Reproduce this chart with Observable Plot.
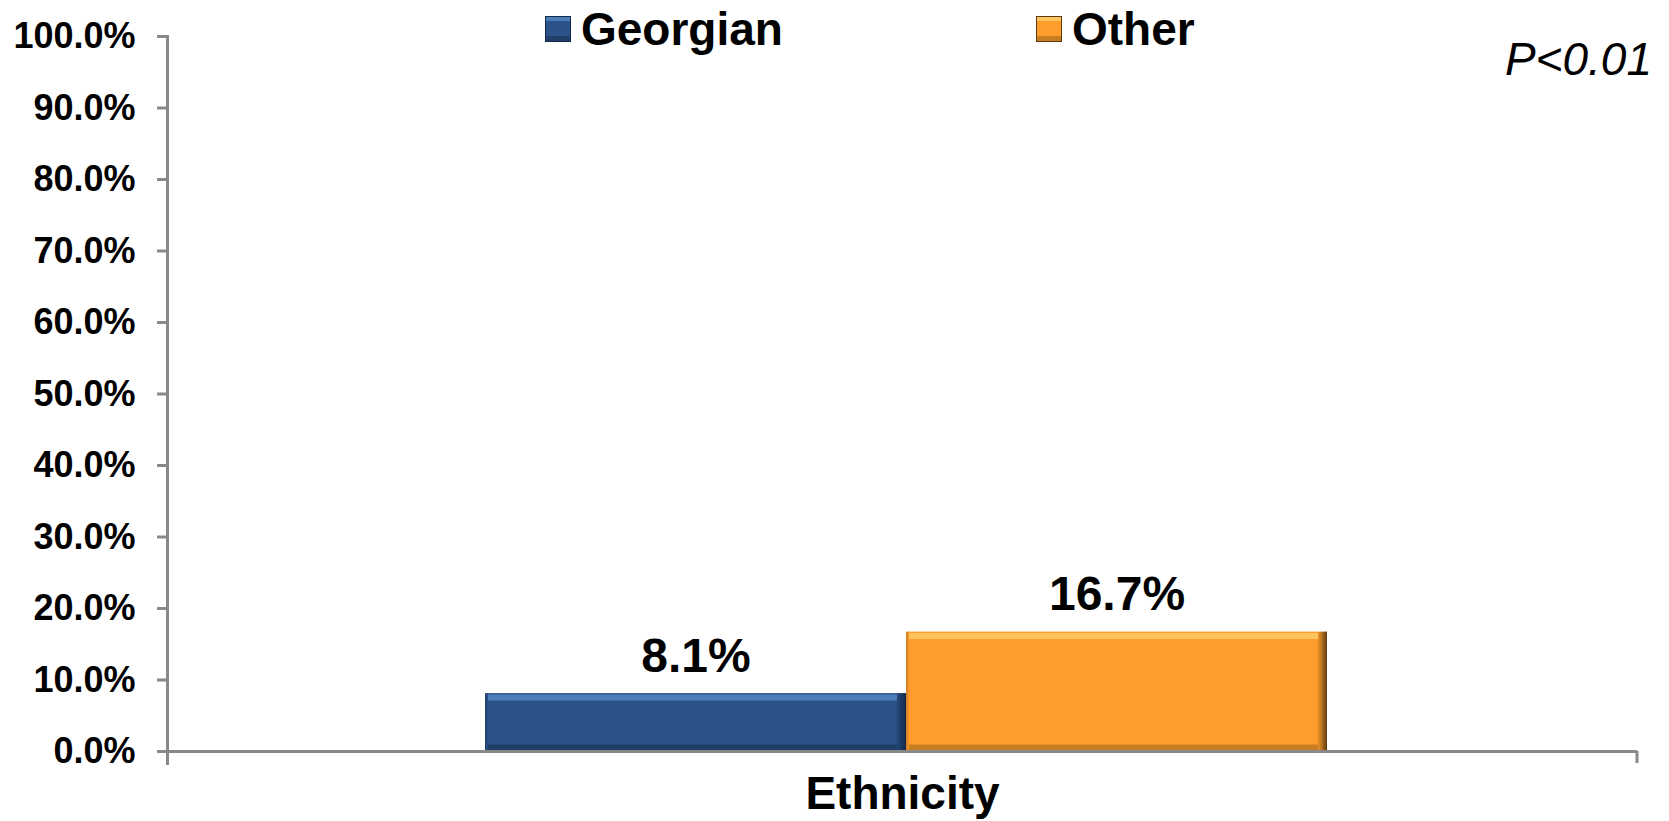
<!DOCTYPE html>
<html><head><meta charset="utf-8">
<script src="https://cdn.jsdelivr.net/npm/d3@7"></script>
<script src="https://cdn.jsdelivr.net/npm/@observablehq/plot@0.6"></script>
<style>
body{margin:0;background:#fff;font-family:"Liberation Sans",Arial,sans-serif;}
#wrap{position:relative;width:1669px;height:821px;overflow:hidden;}
.leg{position:absolute;top:6px;display:flex;align-items:flex-start;font-size:46px;font-weight:bold;line-height:46px;color:#000;}
.sw{width:26px;height:26px;margin-top:10px;margin-right:10px;box-sizing:border-box;}
#pval{position:absolute;right:17px;top:36px;font-size:46px;font-style:italic;line-height:46px;color:#000;}
</style></head><body><div id="wrap"></div>
<script>
const categories = ["Ethnicity"];
const series = ["Georgian", "Other"];
const values = [8.1, 16.7];
const colors = ["#2B5389", "#FE9D2C"];
const highlightColors = ["#4E7EB8", "#FFC55C"];
const shadeColors = ["#1F3F69", "#C97D22"];
const edgeColors = ["#14284A", "#5E3A10"];
const yTicks = [0, 10, 20, 30, 40, 50, 60, 70, 80, 90, 100];
const pText = "P<0.01";

const data = series.map((s, i) => ({category: categories[0], series: s, value: values[i]}));
const idx = d => series.indexOf(d.series);
const axisGray = "#898989";
const W = 1669, H = 821, mL = 167, mR = 32, mT = 36, mB = 70;

const plot = Plot.plot({
  width: W, height: H,
  marginLeft: mL, marginRight: mR, marginTop: mT, marginBottom: mB,
  style: {fontFamily: "'Liberation Sans', Arial, sans-serif", background: "#fff", overflow: "visible"},
  fx: {domain: categories, padding: 0, axis: null},
  x: {domain: series, paddingInner: 0, paddingOuter: 0.744, align: 0.507, axis: null},
  y: {domain: [0, 100], axis: null},
  color: {domain: series, range: colors},
  marks: [
    Plot.barY(data, {fx: "category", x: "series", y: "value", fill: "series", className: "bars"}),
    Plot.tickY(data, {fx: "category", x: "series", y: "value", stroke: d => highlightColors[idx(d)],
      strokeWidth: 6, dy: 4, insetLeft: 3, insetRight: 9}),
    Plot.tickY(data, {fx: "category", x: "series", y: () => 0, stroke: d => shadeColors[idx(d)],
      strokeWidth: 6, dy: -4, insetLeft: 3, insetRight: 9}),
    Plot.ruleY([0], {stroke: axisGray, strokeWidth: 3}),
    Plot.frame({anchor: "left", stroke: axisGray, strokeWidth: 3, insetBottom: -12}),
    Plot.axisY({ticks: yTicks, tickFormat: d => d.toFixed(1) + "%", tickSize: 10, tickPadding: 22,
      stroke: axisGray, strokeWidth: 3, fill: "#000", fontSize: 36, fontWeight: "bold", label: null}),
    Plot.axisFx({anchor: "bottom", tickSize: 0, tickPadding: 25, fontSize: 46, fontWeight: "bold", fill: "#000", label: null}),
    Plot.text(data, {fx: "category", x: "series", y: "value", text: d => d.value.toFixed(1) + "%",
      dy: -37, fontSize: 48, fontWeight: "bold", fill: "#000"})
  ]
});

const wrap = document.getElementById("wrap");
wrap.appendChild(plot);

// bevel gradients (dark right edge) applied to the bars drawn by Plot
const svg = d3.select(plot);
const defs = svg.insert("defs", ":first-child");
series.forEach((s, i) => {
  const g = defs.append("linearGradient").attr("id", "grad" + i).attr("x1", 0).attr("x2", 1).attr("y1", 0).attr("y2", 0);
  g.append("stop").attr("offset", "0").attr("stop-color", shadeColors[i]);
  g.append("stop").attr("offset", "0.008").attr("stop-color", colors[i]);
  g.append("stop").attr("offset", "0.975").attr("stop-color", colors[i]);
  g.append("stop").attr("offset", "0.985").attr("stop-color", shadeColors[i]);
  g.append("stop").attr("offset", "1").attr("stop-color", edgeColors[i]);
});
svg.selectAll("g.bars rect, .bars rect").each(function() {
  const f = this.getAttribute("fill");
  const i = colors.map(c => c.toLowerCase()).indexOf((f || "").toLowerCase());
  if (i >= 0) this.setAttribute("fill", `url(#grad${i})`);
});

// right boundary tick of the category axis, placed with the plot's own y scale
const y0 = plot.scale("y").apply(0);
svg.append("line")
  .attr("x1", W - mR).attr("x2", W - mR)
  .attr("y1", y0).attr("y2", y0 + 12)
  .attr("stroke", axisGray).attr("stroke-width", 3);

// legend
const legLeft = [545, 1036];
series.forEach((s, i) => {
  const d = document.createElement("div");
  d.className = "leg";
  d.style.left = legLeft[i] + "px";
  d.innerHTML = `<div class="sw" style="background:linear-gradient(to bottom, ${highlightColors[i]} 0 15%, ${colors[i]} 15% 80%, ${shadeColors[i]} 80%);border:1px solid ${edgeColors[i]}"></div><span>${s}</span>`;
  wrap.appendChild(d);
});
const p = document.createElement("div");
p.id = "pval";
p.textContent = pText;
wrap.appendChild(p);
</script>
</body></html>
